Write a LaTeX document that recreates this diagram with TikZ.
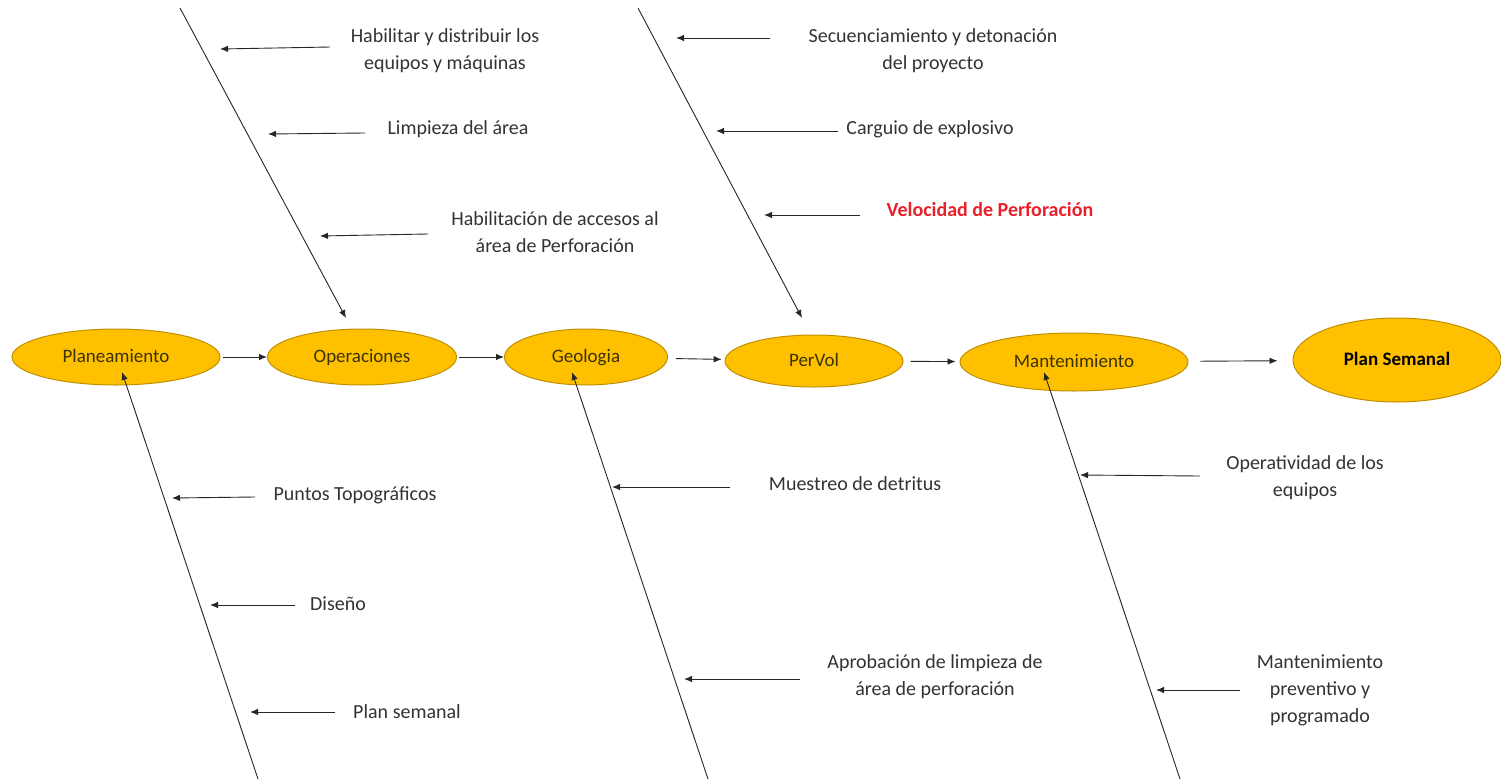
\documentclass[tikz,border=0pt]{standalone}
\usepackage{fontspec}
\setmainfont{Carlito}
\usetikzlibrary{shapes.geometric,arrows.meta}
\definecolor{gold}{HTML}{FFC000}
\definecolor{golddark}{HTML}{BF9000}
\definecolor{ovaltext}{HTML}{3A3300}
\definecolor{lbl}{HTML}{333333}
\definecolor{redlbl}{HTML}{E8202A}
\tikzset{
  oval/.style={ellipse, draw=golddark, fill=gold, line width=1pt, inner sep=0pt,
     text=ovaltext, font=\fontsize{19}{22}\selectfont, text height=13pt, text depth=3pt},
  lbltext/.style={align=center, text=lbl, font=\fontsize{20}{27}\selectfont, inner sep=0pt},
  arr/.style={-{Latex[length=8pt,width=6.5pt]}, line width=0.9pt, draw=black!85},
}
\begin{document}
\begin{tikzpicture}[x=1pt,y=-1pt]
\useasboundingbox[fill=white] (0,0) rectangle (1501,779);

% main ovals
\node[oval, minimum width=208pt, minimum height=56pt] (pla) at (116,357) {Planeamiento};
\node[oval, minimum width=189pt, minimum height=56pt] (ope) at (362,357) {Operaciones};
\node[oval, minimum width=163pt, minimum height=56pt] (geo) at (586,357) {Geologia};
\node[oval, minimum width=178pt, minimum height=52pt] (per) at (814,361) {PerVol};
\node[oval, minimum width=228pt, minimum height=58pt] (man) at (1074,362) {Mantenimiento};
\node[oval, minimum width=208pt, minimum height=84pt, font=\fontsize{19}{22}\selectfont\bfseries, text=black] (sem) at (1397,360) {Plan Semanal};

% main flow arrows
\draw[arr, shorten <=2pt] (pla) -- (ope);
\draw[arr, shorten <=2pt] (ope) -- (geo);
\draw[arr, shorten <=8pt, shorten >=3pt] (geo) -- (per);
\draw[arr, shorten <=7pt, shorten >=4pt] (per) -- (man);
\draw[arr, shorten <=12pt, shorten >=15pt] (man) -- (sem);

% bones
\coordinate (d1s) at (180,8);   \coordinate (d1e) at (346,318);
\coordinate (d2s) at (638,8);   \coordinate (d2e) at (802,318);
\coordinate (d3s) at (258,779); \coordinate (d3e) at (122,372);
\coordinate (d4s) at (708,779); \coordinate (d4e) at (572,372);
\coordinate (d5s) at (1180,779);\coordinate (d5e) at (1044,372);
\draw[arr] (d1s) -- (d1e);
\draw[arr] (d2s) -- (d2e);
\draw[arr] (d3s) -- (d3e);
\draw[arr] (d4s) -- (d4e);
\draw[arr] (d5s) -- (d5e);

% labels
\node[lbltext] (l1) at (445,51) {Habilitar y distribuir los\\equipos y máquinas};
\node[lbltext] (l2) at (458,129) {Limpieza del área};
\node[lbltext] (l3) at (555,232) {Habilitación de accesos al\\área de Perforación};
\node[lbltext] (l4) at (933,51) {Secuenciamiento y detonación\\del proyecto};
\node[lbltext] (l5) at (930,129) {Carguio de explosivo};
\node[lbltext, text=redlbl, font=\fontsize{20}{27}\selectfont\bfseries] (l6) at (990,210) {Velocidad de Perforación};
\node[lbltext] (l7) at (355,495) {Puntos Topográficos};
\node[lbltext] (l8) at (338,604) {Diseño};
\node[lbltext] (l9) at (407,712) {Plan semanal};
\node[lbltext] (l10) at (855,484) {Muestreo de detritus};
\node[lbltext] (l11) at (935,677) {Aprobación de limpieza de\\área de perforación};
\node[lbltext] (l12) at (1305,478) {Operatividad de los\\equipos};
\node[lbltext] (l13) at (1320,690) {Mantenimiento\\preventivo y\\programado};

% branch arrows
\coordinate (a1s) at (330,47);  \coordinate (a1e) at (220,49);
\coordinate (a2s) at (365,133); \coordinate (a2e) at (268,134);
\coordinate (a3s) at (428,234); \coordinate (a3e) at (320,236);
\coordinate (a4s) at (770,38);  \coordinate (a4e) at (676,38);
\coordinate (a5s) at (838,131); \coordinate (a5e) at (716,131);
\coordinate (a6s) at (860,215); \coordinate (a6e) at (764,215);
\coordinate (a7s) at (255,497); \coordinate (a7e) at (172,498);
\coordinate (a8s) at (295,605); \coordinate (a8e) at (210,605);
\coordinate (a9s) at (335,712); \coordinate (a9e) at (250,712);
\coordinate (a10s) at (730,487); \coordinate (a10e) at (612,487);
\coordinate (a11s) at (800,679); \coordinate (a11e) at (684,679);
\coordinate (a12s) at (1200,476); \coordinate (a12e) at (1080,475);
\coordinate (a13s) at (1240,690); \coordinate (a13e) at (1156,690);
\foreach \i in {1,...,13} { \draw[arr] (a\i s) -- (a\i e); }
\end{tikzpicture}
\end{document}
